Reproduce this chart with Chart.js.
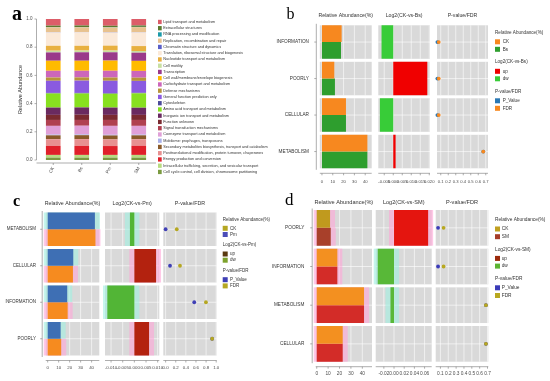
<!DOCTYPE html>
<html><head><meta charset="utf-8">
<script src="https://cdn.jsdelivr.net/npm/chart.js@4.4.1/dist/chart.umd.min.js"></script>
<style>
html,body{margin:0;padding:0;background:#fff;overflow:hidden}
#wrap{position:relative;width:550px;height:381px;background:#fff}
#wrap canvas{position:absolute;left:0;top:0}
</style></head><body><div id="wrap"></div>
<script>
// ===================== DATA =====================
// Panel a: COG functional categories (legend order, top to bottom)
const cogNames = ['Lipid transport and metabolism','Extracellular structures','RNA processing and modification','Replication, recombination and repair','Chromatin structure and dynamics','Translation, ribosomal structure and biogenesis','Nucleotide transport and metabolism','Cell motility','Transcription','Cell wall/membrane/envelope biogenesis','Carbohydrate transport and metabolism','Defense mechanisms','General function prediction only','Cytoskeleton','Amino acid transport and metabolism','Inorganic ion transport and metabolism','Function unknown','Signal transduction mechanisms','Coenzyme transport and metabolism','Mobilome: prophages, transposons','Secondary metabolites biosynthesis, transport and catabolism','Posttranslational modification, protein turnover, chaperones','Energy production and conversion','Intracellular trafficking, secretion, and vesicular transport','Cell cycle control, cell division, chromosome partitioning'];
const cogColors = ['#dc5d69','#5b7a2e','#1b9aaa','#e8c28f','#5a5fc8','#fbe9d8','#e8b040','#c8e0a0','#9a3a8a','#ffbb00','#cc66bb','#b8953a','#8a5ae0','#4b4a9a','#88e020','#6a2a60','#7a2a30','#b04050','#e0a0d8','#a8b0e8','#8a5a2a','#e89090','#e0202a','#b8dc80','#7a9a40'];
const samples = ['CK','Bs','Pm','SM'];
const abundCK = [0.047,0.010,0.002,0.034,0.002,0.095,0.035,0.012,0.059,0.071,0.048,0.023,0.086,0.004,0.100,0.052,0.036,0.042,0.062,0.005,0.028,0.047,0.064,0.019,0.017];
const abundBs = [0.046,0.011,0.002,0.033,0.002,0.096,0.034,0.012,0.060,0.071,0.047,0.023,0.087,0.004,0.099,0.052,0.037,0.041,0.062,0.005,0.028,0.048,0.064,0.019,0.017];
const abundPm = [0.048,0.010,0.002,0.034,0.002,0.093,0.035,0.012,0.059,0.072,0.048,0.023,0.088,0.004,0.098,0.052,0.036,0.042,0.063,0.005,0.028,0.047,0.063,0.019,0.017];
const abundSM = [0.046,0.010,0.002,0.035,0.002,0.097,0.035,0.012,0.058,0.071,0.048,0.023,0.084,0.004,0.102,0.051,0.036,0.042,0.062,0.005,0.028,0.046,0.065,0.019,0.017];

// Panel b: CK vs Bs
const rowsB = ['INFORMATION','POORLY','CELLULAR','METABOLISM'];
const raCK_B = [18.2, 11.4, 22.2, 42.0];
const raBs_B = [17.6, 12.0, 22.2, 42.0];
const log2B = [-0.0065, 0.0189, -0.0074, 0.0013];
const pB = [0.055, 0.055, 0.055, 0.667];
const fdrB = [0.073, 0.073, 0.073, 0.667];

// Panel c: CK vs Pm
const rowsC = ['METABOLISM','CELLULAR','INFORMATION','POORLY'];
const raPm_C = [43.0, 23.3, 17.8, 11.8];
const raCK_C = [43.5, 23.0, 18.2, 12.3];
const log2C = [-0.0019, 0.0093, -0.0116, 0.0063];
const pC = [0.0, 0.087, 0.566, 0.92];
const fdrC = [0.22, 0.284, 0.797, 0.92];

// Panel d: CK vs SM
const rowsD = ['POORLY','INFORMATION','METABOLISM','CELLULAR'];
const raCK_D = [11.7, 18.1, 41.5, 22.8];
const raSM_D = [12.3, 18.1, 41.5, 22.8];
const log2D = [0.067, -0.032, -0.007, null];
const pD = [0.07, 0.07, 0.68, 0.68];
const fdrD = [0.14, 0.14, 0.68, 0.68];

// ===================== SETUP =====================
const W = 550, H = 381;
const SANS = "'Liberation Sans', Arial, sans-serif";
const SERIF = "'Liberation Serif', 'Times New Roman', serif";
const GRAY = '#d9d9d9';
const PINK = 'rgba(255,165,215,0.6)', CYAN = 'rgba(160,240,225,0.6)';
Chart.defaults.font.family = SANS;
Chart.defaults.color = '#4d4d4d';
const wrap = document.getElementById('wrap');
function newCtx(){
  const c = document.createElement('canvas');
  c.width = W; c.height = H; c.style.width = W+'px'; c.style.height = H+'px';
  wrap.appendChild(c); return c.getContext('2d');
}
const fixX = h => s => { s.height = h; s.paddingLeft = 0; s.paddingRight = 0; };
const fixY = w => s => { s.width = w; s.paddingTop = 0; s.paddingBottom = 0; };
const fmt = d => v => (Math.abs(v) < 1e-12 ? 0 : v).toFixed(d);
const baseOpts = {responsive:false, animation:false, events:[], devicePixelRatio:1};

function drawLegend(ctx, L){
  ctx.save();
  ctx.font = L.font + 'px ' + SANS; ctx.textBaseline = 'middle'; ctx.textAlign = 'left';
  let y = L.y0;
  L.groups.forEach((g, gi) => {
    if (gi > 0) y += L.groupGap;
    ctx.fillStyle = '#333'; ctx.fillText(g.title, L.x, y);
    y += L.titleToItem;
    g.names.forEach((nm, k) => {
      if (k > 0) y += L.step;
      ctx.fillStyle = g.colors[k];
      ctx.fillRect(L.x, y - L.sw/2, L.sw, L.sw);
      ctx.fillStyle = '#333'; ctx.fillText(nm, L.x + L.textOff, y);
    });
  });
  ctx.restore();
}
function drawText(ctx, t){
  ctx.save(); ctx.font = t.font; ctx.fillStyle = t.color || '#000';
  ctx.textAlign = t.align || 'left'; ctx.textBaseline = t.baseline || 'alphabetic';
  ctx.fillText(t.text, t.x, t.y); ctx.restore();
}

// one facet column (ggplot style)
function makeColumn(s){
  const n = s.rows.length;
  const band = (s.bottom - s.top) / n;
  const catPct = (band - s.gap) / band;
  const xH = 24;
  const yW = s.rowLabels ? s.rowLabels.width : 0;
  const padding = {left: s.left - yW, right: W - s.right, top: s.top, bottom: H - s.bottom - xH};
  const tickPad = s.tickY - s.bottom - s.tickFont * 0.6;
  const isP = s.kind === 'p';
  const deco = {
    id: 'deco',
    beforeDatasetsDraw(chart){
      const {ctx, chartArea:a, scales:{x, y}} = chart;
      ctx.save();
      for (let i = 0; i < n; i++){
        const cy = y.getPixelForValue(i);
        const t = cy - band/2 + s.gap/2, h = band - s.gap;
        ctx.fillStyle = GRAY; ctx.fillRect(a.left, t, a.right - a.left, h);
        ctx.strokeStyle = 'rgba(255,255,255,0.85)'; ctx.lineWidth = 0.7;
        ctx.beginPath();
        for (const tk of x.ticks){ const px = x.getPixelForValue(tk.value); ctx.moveTo(px, t); ctx.lineTo(px, t + h); }
        ctx.moveTo(a.left, cy); ctx.lineTo(a.right, cy);
        ctx.stroke();
      }
      // soft halo around bars (as in the reference image)
      if (s.glow && !isP){
        chart.data.datasets.forEach((ds, di) => {
          chart.getDatasetMeta(di).data.forEach((el, i) => {
            const v = ds.data[i]; if (v == null) return;
            const val = Array.isArray(v) ? v[1] : v;
            const col = s.glow(di, i, val); if (!col) return;
            const x1 = Math.min(el.base, el.x) - s.glowExt, x2 = Math.max(el.base, el.x) + s.glowExt;
            ctx.fillStyle = col;
            ctx.fillRect(Math.max(a.left - 2, x1), el.y - el.height/2, Math.min(a.right + 2, x2) - Math.max(a.left - 2, x1), el.height);
          });
        });
      }
      ctx.restore();
    },
    afterDraw(chart){
      const {ctx, chartArea:a, scales:{x, y}} = chart;
      ctx.save();
      ctx.strokeStyle = '#777'; ctx.lineWidth = 0.6;
      const y0 = a.bottom + s.axisGap;
      ctx.beginPath(); ctx.moveTo(a.left, y0); ctx.lineTo(a.right, y0);
      for (const tk of x.ticks){ const px = x.getPixelForValue(tk.value); ctx.moveTo(px, y0); ctx.lineTo(px, y0 + 2); }
      ctx.stroke();
      if (s.rowLabels){
        const x0 = a.left - s.axisGap;
        ctx.beginPath(); ctx.moveTo(x0, a.top); ctx.lineTo(x0, a.bottom);
        for (let i = 0; i < n; i++){ const cy = y.getPixelForValue(i); ctx.moveTo(x0, cy); ctx.lineTo(x0 - 2, cy); }
        ctx.stroke();
      }
      ctx.restore();
      drawText(ctx, {text: s.header, x: (a.left + a.right)/2, y: s.headerY, font: s.headerFont + 'px ' + SANS, color:'#333', align:'center', baseline:'middle'});
      if (s.letter) drawText(ctx, s.letter);
      if (s.legend) drawLegend(ctx, s.legend);
    }
  };
  const xScale = {type:'linear', min:s.min, max:s.max, afterFit: fixX(xH),
    grid:{display:false, drawTicks:false}, border:{display:false},
    ticks:{stepSize:s.step, autoSkip:false, maxRotation:0, minRotation:0, includeBounds:false,
      padding:tickPad, font:{size:s.tickFont}, color:'#4d4d4d', callback: fmt(s.dec)}};
  let yScale;
  if (isP) yScale = {type:'linear', min:-0.5, max:n - 0.5, reverse:true, display:false};
  else yScale = {type:'category', display: !!s.rowLabels, afterFit: fixY(yW),
    grid:{display:false, drawTicks:false}, border:{display:false},
    ticks:{padding: s.rowLabels ? s.rowLabels.pad : 0, font:{size: s.rowLabels ? s.rowLabels.font : 5}, color:'#333'}};
  let datasets;
  if (s.kind === 'ra'){
    datasets = s.series.map(se => ({label: se.name, data: se.values, backgroundColor: se.color,
      barPercentage:1, categoryPercentage:catPct, borderWidth:0}));
  } else if (s.kind === 'log'){
    datasets = [{label:'log2', data: s.values.map(v => v == null ? null : [0, v]),
      backgroundColor: s.values.map(v => v != null && v > 0 ? s.upColor : s.dwColor),
      barPercentage:1, categoryPercentage:catPct, borderWidth:0}];
  } else {
    // later series drawn on top (FDR over P_Value)
    datasets = s.series.map((se, k) => ({label: se.name, data: se.values.map((v, i) => ({x: v, y: i})),
      backgroundColor: se.color, borderWidth:0, pointRadius: s.pointR, clip: false, order: s.series.length - k}));
  }
  return new Chart(newCtx(), {
    type: isP ? 'scatter' : 'bar',
    data: isP ? {datasets} : {labels: s.rows, datasets},
    options: Object.assign({}, baseOpts, {
      indexAxis: isP ? 'x' : 'y',
      layout:{autoPadding:false, padding},
      plugins:{legend:{display:false}, tooltip:{enabled:false}},
      scales:{x: xScale, y: yScale}
    }),
    plugins:[deco]
  });
}

// ===================== PANEL a =====================
(function(){
  const sampleVals = [abundCK, abundBs, abundPm, abundSM];
  const datasets = cogNames.map((nm, k) => ({label: nm, data: sampleVals.map(arr => arr[k]),
    backgroundColor: cogColors[k], barPercentage:0.515, categoryPercentage:1, borderWidth:0})).reverse();
  const yW = 22, xH = 26, L = 39, R = 153, T = 19, B = 160;
  const deco = {
    id:'decoA',
    afterDraw(chart){
      const {ctx, chartArea:a, scales:{x, y}} = chart;
      ctx.save(); ctx.strokeStyle = '#777'; ctx.lineWidth = 0.6;
      const x0 = a.left - 2.5, y0 = a.bottom + 3;
      ctx.beginPath(); ctx.moveTo(x0, a.top); ctx.lineTo(x0, a.bottom);
      for (const tk of y.ticks){ const py = y.getPixelForValue(tk.value); ctx.moveTo(x0, py); ctx.lineTo(x0 - 2, py); }
      ctx.moveTo(x0, y0); ctx.lineTo(a.right + 3, y0);
      for (let i = 0; i < samples.length; i++){ const px = x.getPixelForValue(i); ctx.moveTo(px, y0); ctx.lineTo(px, y0 + 2); }
      ctx.stroke(); ctx.restore();
      drawText(ctx, {text:'a', x:12, y:19.5, font:'bold 20px ' + SERIF});
      ctx.save();
      ctx.font = '3.8px ' + SANS; ctx.textBaseline = 'middle';
      cogNames.forEach((nm, k) => {
        const cy = 21.9 + k * 6.25;
        ctx.fillStyle = cogColors[k]; ctx.fillRect(158, cy - 2.1, 3.7, 4.3);
        ctx.fillStyle = '#333'; ctx.fillText(nm, 163.3, cy);
      });
      ctx.restore();
    }
  };
  new Chart(newCtx(), {
    type:'bar',
    data:{labels: samples, datasets},
    options: Object.assign({}, baseOpts, {
      layout:{autoPadding:false, padding:{left: L - yW, right: W - R, top: T, bottom: H - B - xH}},
      plugins:{legend:{display:false}, tooltip:{enabled:false}},
      scales:{
        x:{stacked:true, afterFit: fixX(xH), grid:{display:false, drawTicks:false}, border:{display:false},
          ticks:{minRotation:60, maxRotation:60, padding:6, autoSkip:false, font:{size:4.5}, color:'#4d4d4d'}},
        y:{stacked:true, min:0, max:1, afterFit: fixY(yW), grid:{display:false, drawTicks:false}, border:{display:false},
          ticks:{stepSize:0.2, padding:6.5, font:{size:4.5}, color:'#4d4d4d', callback: fmt(1)},
          title:{display:true, text:'Relative Abundance', font:{size:5.5}, padding:0, color:'#333'}}
      }
    }),
    plugins:[deco]
  });
})();

// ===================== PANEL b =====================
(function(){
  const c = {CK:'#f7881f', Bs:'#2e9e2e', up:'#f00000', dw:'#38cc38', P:'#2a78b4', FDR:'#f7881f'};
  const common = {rows: rowsB, top:23.8, bottom:169.8, gap:3, tickY:182, tickFont:4.2, axisGap:3.5, headerY:15.5, headerFont:5.2};
  makeColumn(Object.assign({}, common, {kind:'ra', left:319.8, right:371.7, min:-2, max:46, step:10, dec:0,
    header:'Relative Abundance(%)', rowLabels:{width:60, pad:10.8, font:4.7},
    letter:{text:'b', x:286.5, y:19.3, font:'16px ' + SERIF},
    series:[{name:'CK', values: raCK_B, color:c.CK}, {name:'Bs', values: raBs_B, color:c.Bs}]}));
  makeColumn(Object.assign({}, common, {kind:'log', left:378.3, right:430, min:-0.0083, max:0.0204, step:0.005, dec:3,
    header:'Log2(CK-vs-Bs)', values: log2B, upColor:c.up, dwColor:c.dw}));
  makeColumn(Object.assign({}, common, {kind:'p', left:437, right:488, min:0.05, max:0.73, step:0.1, dec:1, pointR:1.9,
    header:'P-value/FDR', series:[{name:'P_Value', values:pB, color:c.P}, {name:'FDR', values:fdrB, color:c.FDR}],
    legend:{x:495, y0:32.3, titleToItem:9.5, step:7.5, groupGap:12.5, sw:5, textOff:7.7, font:4.6, groups:[
      {title:'Relative Abundance(%)', names:['CK','Bs'], colors:[c.CK, c.Bs]},
      {title:'Log2(CK-vs-Bs)', names:['up','dw'], colors:[c.up, c.dw]},
      {title:'P-value/FDR', names:['P_Value','FDR'], colors:[c.P, c.FDR]}]}}));
})();

// ===================== PANEL c =====================
(function(){
  const c = {Pm:'#3e6fb4', CK:'#f68b1f', up:'#b3220f', dw:'#52b536', P:'#3f3fb5', FDR:'#b5a722',
    lgCK:'#b5a722', lgPm:'#4b4db8', lgUp:'#5a3a10', lgDw:'#7da22c'};
  const common = {rows: rowsC, top:211, bottom:357, gap:3, tickY:367.3, tickFont:4.4, axisGap:3.5, headerY:204, headerFont:5.3, glowExt:5};
  makeColumn(Object.assign({}, common, {kind:'ra', left:45.7, right:99.3, min:-1.8, max:47, step:10, dec:0,
    header:'Relative Abundance(%)', rowLabels:{width:40, pad:9.7, font:4.5},
    letter:{text:'c', x:13, y:206, font:'bold 16px ' + SERIF},
    glow:(di) => di === 0 ? CYAN : PINK,
    series:[{name:'Pm', values: raPm_C, color:c.Pm}, {name:'CK', values: raCK_C, color:c.CK}]}));
  makeColumn(Object.assign({}, common, {kind:'log', left:105, right:159.3, min:-0.0126, max:0.0107, step:0.005, dec:3,
    header:'Log2(CK-vs-Pm)', values: log2C, upColor:c.up, dwColor:c.dw,
    glow:(di, i, v) => v > 0 ? PINK : CYAN}));
  makeColumn(Object.assign({}, common, {kind:'p', left:163.3, right:216.7, min:-0.046, max:1.01, step:0.2, dec:1, pointR:1.9,
    header:'P-value/FDR', series:[{name:'P_Value', values:pC, color:c.P}, {name:'FDR', values:fdrC, color:c.FDR}],
    legend:{x:222.7, y0:219.3, titleToItem:9, step:6.2, groupGap:10.5, sw:5, textOff:7.3, font:4.5, groups:[
      {title:'Relative Abundance(%)', names:['CK','Pm'], colors:[c.lgCK, c.lgPm]},
      {title:'Log2(CK-vs-Pm)', names:['up','dw'], colors:[c.lgUp, c.lgDw]},
      {title:'P-value/FDR', names:['P_Value','FDR'], colors:[c.P, c.FDR]}]}}));
})();

// ===================== PANEL d =====================
(function(){
  const c = {CK:['#c09a1e','#f39020','#f39020','#f39020'], SM:['#a8402a','#d32c28','#d32c28','#d32c28'],
    up:'#e4150f', dw:'#58b838', P:'#3b3bb8', FDR:'#b8a820',
    lgCK:'#c0a020', lgSM:'#a63c28', lgUp:'#9c2a0c', lgDw:'#5cb432'};
  const common = {rows: rowsD, top:208.5, bottom:363.2, gap:3, tickY:374, tickFont:4.8, axisGap:3.5, headerY:202.7, headerFont:5.6, glowExt:5};
  makeColumn(Object.assign({}, common, {kind:'ra', left:315.7, right:372, min:-0.9, max:48.5, step:10, dec:0,
    header:'Relative Abundance(%)', rowLabels:{width:60, pad:11.4, font:4.7},
    letter:{text:'d', x:285, y:205, font:'17px ' + SERIF},
    glow:() => PINK,
    series:[{name:'CK', values: raCK_D, color:c.CK}, {name:'SM', values: raSM_D, color:c.SM}]}));
  makeColumn(Object.assign({}, common, {kind:'log', left:375.7, right:431.7, min:-0.036, max:0.074, step:0.02, dec:2,
    header:'Log2(CK-vs-SM)', values: log2D, upColor:c.up, dwColor:c.dw,
    glow:(di, i, v) => v > 0 ? PINK : CYAN}));
  makeColumn(Object.assign({}, common, {kind:'p', left:435.7, right:488.3, min:0.04, max:0.71, step:0.1, dec:1, pointR:1.9,
    header:'P-value/FDR', series:[{name:'P_Value', values:pD, color:c.P}, {name:'FDR', values:fdrD, color:c.FDR}],
    legend:{x:495, y0:220, titleToItem:9, step:7.7, groupGap:12.7, sw:5, textOff:6.7, font:4.8, groups:[
      {title:'Relative Abundance(%)', names:['CK','SM'], colors:[c.lgCK, c.lgSM]},
      {title:'Log2(CK-vs-SM)', names:['up','dw'], colors:[c.lgUp, c.lgDw]},
      {title:'P-value/FDR', names:['P_Value','FDR'], colors:[c.P, c.FDR]}]}}));
})();
</script></body></html>
